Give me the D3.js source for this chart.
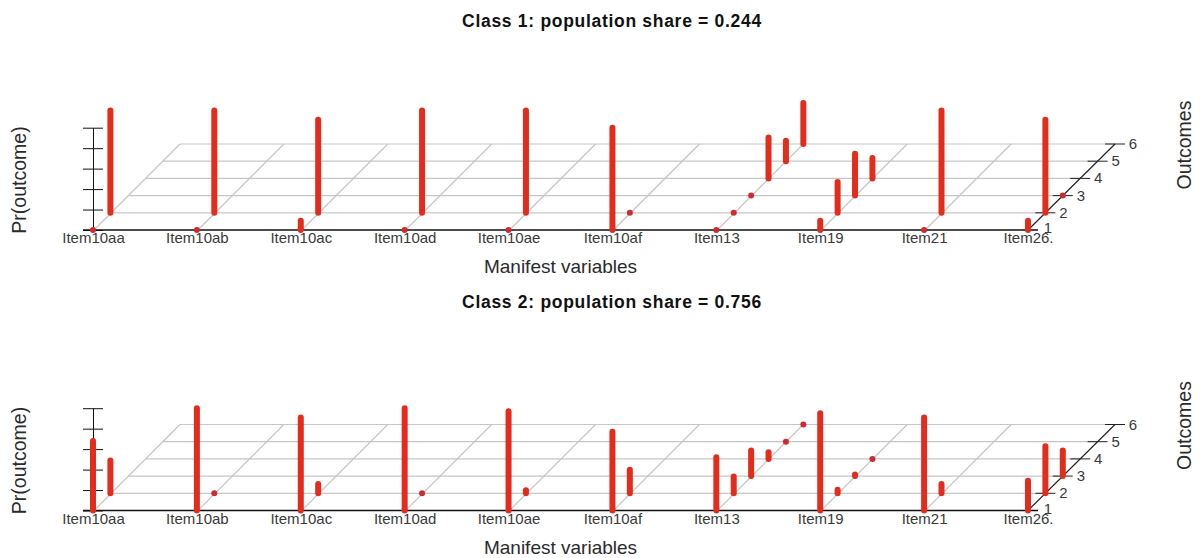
<!DOCTYPE html>
<html>
<head>
<meta charset="utf-8">
<script src="https://cdn.jsdelivr.net/npm/d3@7"></script>
<style>
body { margin: 0; background: #fff; }
text { font-family: "Liberation Sans", Arial, sans-serif; fill: #2b2b2b; }
</style>
</head>
<body>
<div id="chart"></div>
<script>
let items = ["Item10aa", "Item10ab", "Item10ac", "Item10ad", "Item10ae", "Item10af", "Item13", "Item19", "Item21", "Item26."];
let outcomes = [1, 2, 3, 4, 5, 6];
let probTicks = [0, 0.2, 0.4, 0.6, 0.8, 1];
let classTitles = ["Class 1: population share = 0.244", "Class 2: population share = 0.756"];

// one list per item, one value per outcome that the item has
let class1Probs = [
    [0, 1], [0, 1], [0.09, 0.91], [0, 1], [0, 1], [1, 0],
    [0, 0, 0, 0.4, 0.2, 0.4], [0.09, 0.3, 0.41, 0.2], [0, 1], [0.09, 0.91, 0]
];
let class2Probs = [
    [0.68, 0.32], [1, 0], [0.91, 0.09], [1, 0], [0.97, 0.03], [0.77, 0.23],
    [0.52, 0.165, 0.25, 0.065, 0, 0], [0.95, 0.035, 0.015, 0], [0.91, 0.09], [0.29, 0.46, 0.25]
];

let width = 1202,
    height = 558,
    panelStep = 280.5,
    baseY = 230,
    barColor = "#e42c1c";

let x = d3.scalePoint().domain(items).range([93, 1028]);
let depthX = d3.scaleLinear().domain([1, 6]).range([0, 87]);
let depthY = d3.scaleLinear().domain([1, 6]).range([0, 86]);
let y = d3.scaleLinear().domain([0, 1]).range([0, -102.3]);

let svg = d3.select("#chart").append("svg")
    .attr("width", width)
    .attr("height", height)
    .style("display", "block");

[class1Probs, class2Probs].forEach(function(probs, k) {
    let g = svg.append("g")
        .attr("transform", "translate(0," + (baseY + k * panelStep) + ")");

    // floor grid
    g.selectAll(".gridH")
        .data(outcomes.slice(1))
        .enter().append("line")
        .attr("x1", function(d) { return x(items[0]) + depthX(d); })
        .attr("x2", function(d) { return x(items[9]) + depthX(d); })
        .attr("y1", function(d) { return -depthY(d); })
        .attr("y2", function(d) { return -depthY(d); })
        .attr("stroke", "#c6c6c6")
        .attr("stroke-width", 1.2);

    g.selectAll(".gridD")
        .data(items.slice(0, 9))
        .enter().append("line")
        .attr("x1", function(d) { return x(d) + 1; })
        .attr("x2", function(d) { return x(d) + depthX(6); })
        .attr("y1", 0)
        .attr("y2", -depthY(6))
        .attr("stroke", "#c6c6c6")
        .attr("stroke-width", 1.2);

    // vertical probability axis, ticks go both sides
    [d3.axisLeft(y), d3.axisRight(y)].forEach(function(axis) {
        g.append("g")
            .attr("transform", "translate(" + x(items[0]) + ",0)")
            .call(axis.tickValues(probTicks).tickSize(10).tickSizeOuter(0).tickFormat(""))
            .call(function(s) { s.selectAll("line,path").attr("stroke", "#111"); });
    });

    // item labels
    let xAxis = g.append("g")
        .call(d3.axisBottom(x).tickSize(0));
    xAxis.select(".domain").remove();
    xAxis.selectAll("text")
        .attr("y", 13.3)
        .attr("dy", 0)
        .style("font-family", '"Liberation Sans", Arial, sans-serif')
        .style("font-size", "15px")
        .style("fill", "#3a3a3a");

    g.append("line")
        .attr("x1", 83).attr("x2", 1038)
        .attr("y1", 0).attr("y2", 0)
        .attr("stroke", "#111")
        .attr("stroke-width", 1.4);

    // outcome axis on the right
    g.append("line")
        .attr("x1", x(items[9]) + depthX(1))
        .attr("x2", x(items[9]) + depthX(6))
        .attr("y1", 0)
        .attr("y2", -depthY(6))
        .attr("stroke", "#222")
        .attr("stroke-width", 1.2);

    g.selectAll(".outTick")
        .data(outcomes.slice(1))
        .enter().append("line")
        .attr("x1", function(d) { return x(items[9]) + depthX(d) - 10; })
        .attr("x2", function(d) { return x(items[9]) + depthX(d) + 10; })
        .attr("y1", function(d) { return -depthY(d); })
        .attr("y2", function(d) { return -depthY(d); })
        .attr("stroke", "#222");

    g.selectAll(".outLabel")
        .data(outcomes)
        .enter().append("text")
        .attr("x", function(d) { return x(items[9]) + depthX(d) + (d === 1 ? 20 : 18); })
        .attr("y", function(d) { return -depthY(d) + (d === 1 ? 3 : 5); })
        .attr("text-anchor", "middle")
        .style("font-size", "15px")
        .style("fill", "#3a3a3a")
        .text(function(d) { return d; });

    // bars, zero length ones come out as dots because of the round cap
    let cells = [];
    probs.forEach(function(row, i) {
        row.forEach(function(p, j) {
            cells.push({item: items[i], outcome: outcomes[j], p: p});
        });
    });
    cells.sort(function(a, b) { return b.outcome - a.outcome; });

    g.selectAll(".bar")
        .data(cells)
        .enter().append("line")
        .attr("class", "bar")
        .attr("x1", function(d) { return x(d.item) + depthX(d.outcome); })
        .attr("x2", function(d) { return x(d.item) + depthX(d.outcome); })
        .attr("y1", function(d) { return -depthY(d.outcome); })
        .attr("y2", function(d) { return -depthY(d.outcome) + y(d.p); })
        .attr("stroke", function(d) { return d.p === 0 ? "#cf2a30" : barColor; })
        .attr("stroke-width", 6)
        .attr("stroke-linecap", "round");

    // titles
    g.append("text")
        .attr("x", 612)
        .attr("y", -203)
        .attr("text-anchor", "middle")
        .style("font-size", "17.5px")
        .style("letter-spacing", "0.7px")
        .style("font-weight", "bold")
        .style("fill", "#111")
        .text(classTitles[k]);

    g.append("text")
        .attr("x", 560.5)
        .attr("y", 43)
        .attr("text-anchor", "middle")
        .style("font-size", "19px")
        .text("Manifest variables");

    g.append("text")
        .attr("transform", "translate(26,-50) rotate(-90)")
        .attr("text-anchor", "middle")
        .style("font-size", "19.5px")
        .text("Pr(outcome)");

    g.append("text")
        .attr("transform", "translate(1191,-85) rotate(-90)")
        .attr("text-anchor", "middle")
        .style("font-size", "19.5px")
        .text("Outcomes");
});
</script>
</body>
</html>
